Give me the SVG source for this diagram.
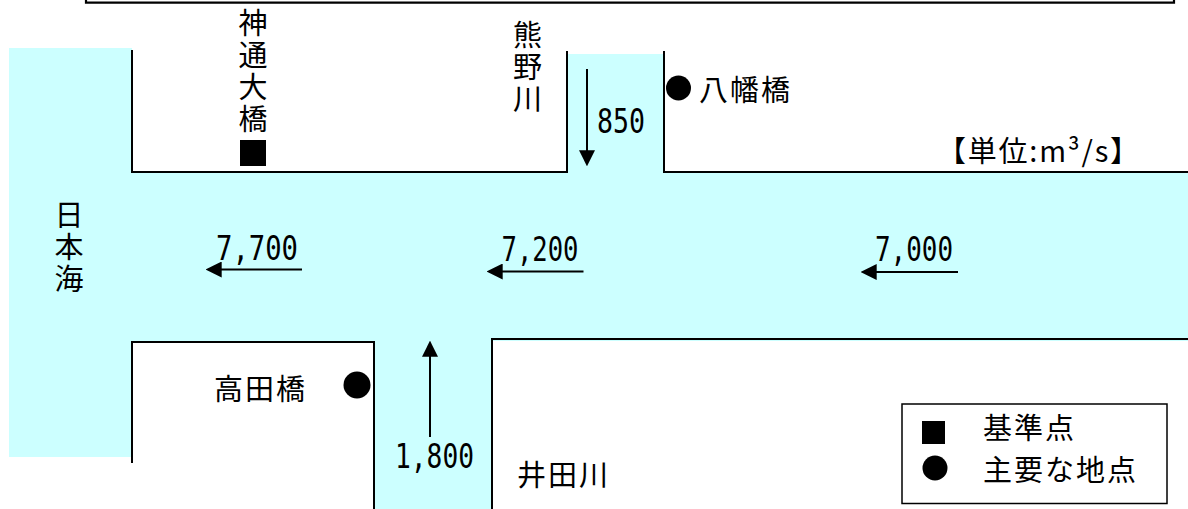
<svg xmlns="http://www.w3.org/2000/svg" width="1188" height="509" viewBox="0 0 1188 509">
<style>
.water{fill:#CCFFFF;stroke:none}
.bank{fill:none;stroke:#000;stroke-width:2}
.lbl{font-family:"Noto Sans CJK JP","Noto Sans CJK SC",sans-serif;font-size:29px;fill:#000}
.vlbl{font-family:"Noto Sans CJK JP","Noto Sans CJK SC",sans-serif;font-size:29px;fill:#000;writing-mode:vertical-rl;letter-spacing:3px}
.num{font-family:"DejaVu Sans Mono","Liberation Mono",monospace;font-size:33px;fill:#000}
.flow{stroke:#000;stroke-width:2;fill:none;marker-end:url(#ah)}
</style>
<defs>
<marker id="ah" markerUnits="userSpaceOnUse" markerWidth="16" markerHeight="16" viewBox="0 0 15 15" refX="10" refY="7.5" orient="auto">
<path d="M0,0 L15,7.5 L0,15 Z" fill="#000"/>
</marker>
</defs>
<rect width="1188" height="509" fill="#fff"/>
<g id="water">
<rect class="water" x="9" y="48" width="123" height="409"/>
<rect class="water" x="132" y="172" width="1056" height="169"/>
<rect class="water" x="567" y="54" width="97" height="118"/>
<rect class="water" x="374" y="339" width="118" height="170"/>
</g>
<g id="frame">
<path d="M86,0 V2.7 H1174 V0" fill="none" stroke="#000" stroke-width="2.2"/>
</g>
<g id="banks">
<polyline class="bank" points="132,50 132,172 567,172 567,51"/>
<polyline class="bank" points="664,51 664,172 1188,172"/>
<polyline class="bank" points="132,463 132,342 374,342 374,509"/>
<polyline class="bank" points="492,509 492,339 1188,339"/>
</g>
<g id="connectors">
<line class="flow" x1="587" y1="69" x2="587" y2="161"/>
<line class="flow" x1="430" y1="437" x2="430" y2="346"/>
<line class="flow" x1="302" y1="269.5" x2="211" y2="269.5"/>
<line class="flow" x1="583.5" y1="271.5" x2="492" y2="271.5"/>
<line class="flow" x1="958" y1="272" x2="866" y2="272"/>
</g>
<g id="flow-labels">
<text class="num" x="597" y="133" textLength="48" lengthAdjust="spacingAndGlyphs">850</text>
<text class="num" x="395" y="468" textLength="79" lengthAdjust="spacingAndGlyphs">1,800</text>
<text class="num" x="216" y="259.5" textLength="82" lengthAdjust="spacingAndGlyphs">7,700</text>
<text class="num" x="501.5" y="261" textLength="77" lengthAdjust="spacingAndGlyphs">7,200</text>
<text class="num" x="875" y="261" textLength="78" lengthAdjust="spacingAndGlyphs">7,000</text>
</g>
<g id="node-jintsu-ohashi">
<text class="vlbl" x="253" y="8">神通大橋</text>
<rect x="240" y="140" width="26" height="26" fill="#000"/>
</g>
<g id="node-kumano">
<text class="vlbl" x="527.5" y="20">熊野川</text>
</g>
<g id="node-nihonkai">
<text class="vlbl" x="69" y="200">日本海</text>
</g>
<g id="node-yawata">
<circle cx="678.5" cy="88" r="12.5" fill="#000"/>
<text class="lbl" x="699" y="101" letter-spacing="2">八幡橋</text>
</g>
<g id="node-takada">
<text class="lbl" x="214" y="400" letter-spacing="2">高田橋</text>
<circle cx="357" cy="385" r="13.5" fill="#000"/>
</g>
<g id="node-ida">
<text class="lbl" x="517" y="486" letter-spacing="2">井田川</text>
</g>
<g id="unit">
<text class="lbl" x="937" y="162" textLength="202" lengthAdjust="spacing">【単位:m³/s】</text>
</g>
<g id="legend">
<rect x="902" y="404" width="265" height="99.5" fill="#fff" stroke="#000" stroke-width="1.5"/>
<rect x="922" y="421" width="23" height="23" fill="#000"/>
<text class="lbl" x="983" y="439" letter-spacing="2">基準点</text>
<circle cx="935" cy="468" r="12.5" fill="#000"/>
<text class="lbl" x="983" y="481" letter-spacing="2">主要な地点</text>
</g>
</svg>
